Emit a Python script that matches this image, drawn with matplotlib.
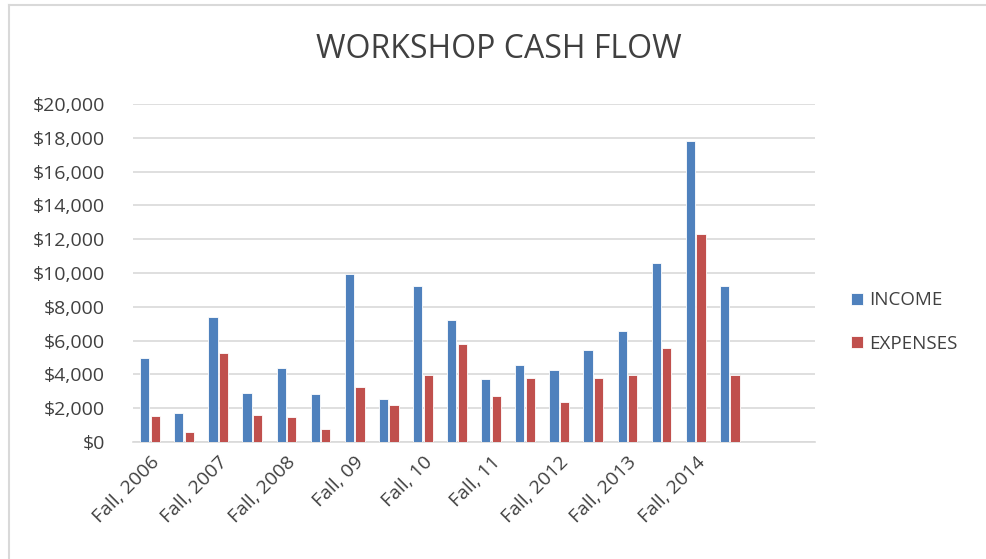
import matplotlib.pyplot as plt
from matplotlib.lines import Line2D
from matplotlib.ticker import FuncFormatter
import numpy as np

# Semesters (every other label is shown on the axis, last two slots empty)
shown_labels = ["Fall, 2006", "Fall, 2007", "Fall, 2008", "Fall, 09", "Fall, 10",
                "Fall, 11", "Fall, 2012", "Fall, 2013", "Fall, 2014", ""]
n_slots = 20

income = [5000, 1720, 7420, 2910, 4390, 2850, 9950, 2530, 9250,
          7220, 3750, 4530, 4280, 5440, 6570, 10610, 17810, 9250]
expenses = [1560, 600, 5260, 1620, 1460, 770, 3280, 2170, 3980,
            5810, 2740, 3790, 2340, 3790, 3940, 5560, 12330, 3960]

blue = "#4f81bd"
red = "#c0504d"
text_color = "#404040"

plt.rcParams['font.family'] = ['Open Sans', 'DejaVu Sans']

fig = plt.figure(figsize=(9.87, 5.59), dpi=100)
ax = fig.add_axes([133 / 987, 1 - 442 / 559, (815 - 133) / 987, (442 - 104) / 559])

x = np.arange(len(income))
w = 0.27
ax.bar(x - w / 2 - 0.02, income, width=w, color=blue, edgecolor="white",
       linewidth=0.6, label="INCOME", zorder=3)
ax.bar(x + w / 2 + 0.02, expenses, width=w, color=red, edgecolor="white",
       linewidth=0.6, label="EXPENSES", zorder=3)

ax.set_xlim(-0.5, n_slots - 0.5)
ax.set_ylim(0, 20000)
ax.set_yticks(range(0, 20001, 2000))
ax.yaxis.set_major_formatter(FuncFormatter(lambda v, p: "${:,.0f}".format(v)))
ax.grid(axis="y", color="#d9d9d9", linewidth=1.2, zorder=0)
ax.set_axisbelow(True)
for s in ["top", "right", "left"]:
    ax.spines[s].set_visible(False)
ax.spines["bottom"].set_color("#d9d9d9")
ax.spines["bottom"].set_linewidth(1.2)

ax.set_xticks(np.arange(0, n_slots, 2))
ax.set_xticklabels(shown_labels, rotation=45, ha="right", rotation_mode="anchor",
                   fontsize=14, color=text_color)
ax.tick_params(axis="x", length=0, pad=8, labelcolor=text_color)
ax.tick_params(axis="y", length=0, pad=20, labelsize=14, labelcolor=text_color)

fig.text(0.505, 1 - 50 / 559, "WORKSHOP CASH FLOW", ha="center", va="center",
         fontsize=23, color=text_color)

fig.legend(loc="center left", bbox_to_anchor=(834 / 987, 1 - 322 / 559),
           frameon=False, fontsize=13.5, handlelength=0.65, handleheight=0.65,
           handletextpad=0.3, labelspacing=1.35, labelcolor=text_color)

# chart border (top and left edges visible)
fig.add_artist(Line2D([9 / 987, 9 / 987], [0, 1 - 5 / 559], transform=fig.transFigure,
                      color="#d9d9d9", linewidth=1.5))
fig.add_artist(Line2D([9 / 987, 1], [1 - 5 / 559, 1 - 5 / 559], transform=fig.transFigure,
                      color="#d9d9d9", linewidth=1.5))

fig.savefig("out.png", dpi=100)
